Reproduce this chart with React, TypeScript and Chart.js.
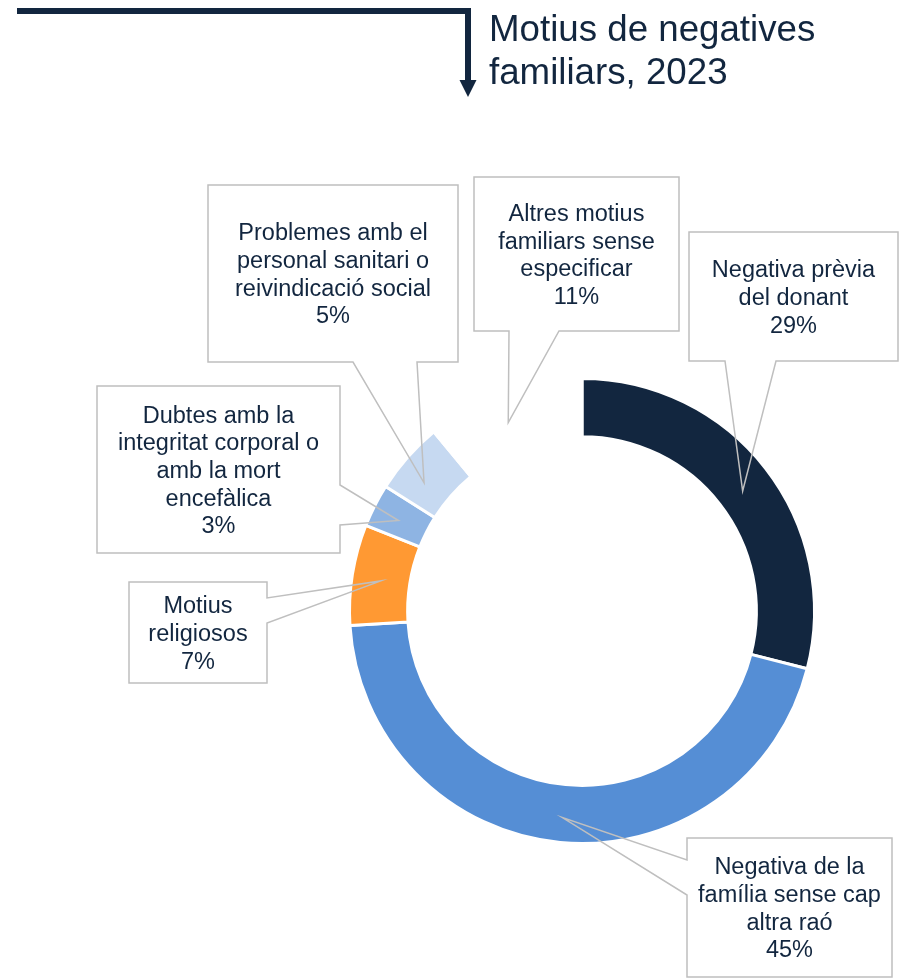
import React, { useEffect, useRef } from "react";
import { Chart, registerables } from "chart.js";

Chart.register(...registerables);

// ---- data ----
const categories: string[][] = [
  ["Negativa prèvia", "del donant"],
  ["Negativa de la", "família sense cap", "altra raó"],
  ["Motius", "religiosos"],
  ["Dubtes amb la", "integritat corporal o", "amb la mort", "encefàlica"],
  ["Problemes amb el", "personal sanitari o", "reivindicació social"],
  ["Altres motius", "familiars sense", "especificar"],
];
const values = [29, 45, 7, 3, 5, 11];
const colors = ["#12263F", "#558ED5", "#FF9933", "#8EB4E3", "#C6D9F1", "#FFFFFF"];
const titleLines = ["Motius de negatives", "familiars, 2023"];

// ---- callout layout (box x, y, w, h) ----
const calloutBoxes = [
  [689, 232, 209, 129],
  [687, 838, 205, 139],
  [129, 582, 138, 101],
  [97, 386, 243, 167],
  [208, 185, 250, 177],
  [474, 177, 205, 154],
];
const calloutSides = ["bottom", "left", "right", "right", "bottom", "bottom"];
const calloutBases = [
  [725, 776],
  [860, 895],
  [598, 623],
  [485, 525],
  [353, 417],
  [509, 559],
];
// tip position inside each arc: [fraction of arc angle, fraction of ring thickness]
const calloutTips = [
  [0.51, 0.45],
  [0.5, 0.57],
  [0.48, 0.5],
  [0.43, 0.52],
  [0.37, 0.5],
  [0.46, 0.48],
];

const NAVY = "#12263F";
const FONT = "'Liberation Sans', Arial, sans-serif";

const decorPlugin = {
  id: "decor",
  afterDatasetsDraw(chart: any) {
    const ctx = chart.ctx as CanvasRenderingContext2D;
    const meta = chart.getDatasetMeta(0);
    ctx.save();
    // callouts
    meta.data.forEach((arc: any, i: number) => {
      const p = arc.getProps(["x", "y", "startAngle", "endAngle", "innerRadius", "outerRadius"], true);
      const [fa, fr] = calloutTips[i];
      const ang = p.startAngle + fa * (p.endAngle - p.startAngle);
      const rad = p.innerRadius + fr * (p.outerRadius - p.innerRadius);
      const tx = p.x + Math.cos(ang) * rad;
      const ty = p.y + Math.sin(ang) * rad;
      const [x, y, w, h] = calloutBoxes[i];
      const [a, b] = calloutBases[i];
      const side = calloutSides[i];
      ctx.beginPath();
      if (side === "bottom") {
        ctx.moveTo(x, y);
        ctx.lineTo(x + w, y);
        ctx.lineTo(x + w, y + h);
        ctx.lineTo(b, y + h);
        ctx.lineTo(tx, ty);
        ctx.lineTo(a, y + h);
        ctx.lineTo(x, y + h);
      } else if (side === "right") {
        ctx.moveTo(x, y);
        ctx.lineTo(x + w, y);
        ctx.lineTo(x + w, a);
        ctx.lineTo(tx, ty);
        ctx.lineTo(x + w, b);
        ctx.lineTo(x + w, y + h);
        ctx.lineTo(x, y + h);
      } else {
        ctx.moveTo(x, y);
        ctx.lineTo(x + w, y);
        ctx.lineTo(x + w, y + h);
        ctx.lineTo(x, y + h);
        ctx.lineTo(x, b);
        ctx.lineTo(tx, ty);
        ctx.lineTo(x, a);
      }
      ctx.closePath();
      ctx.lineWidth = 1.5;
      ctx.strokeStyle = "#BFBFBF";
      ctx.lineJoin = "miter";
      ctx.stroke();

      // text
      const lines = [...categories[i], `${values[i]}%`];
      const fs = 23.5;
      const lh = 27.7;
      ctx.font = `${fs}px ${FONT}`;
      ctx.fillStyle = NAVY;
      ctx.textAlign = "center";
      ctx.textBaseline = "alphabetic";
      const cx = x + w / 2;
      const cy = y + h / 2;
      const first = cy - ((lines.length - 1) * lh) / 2 + fs * 0.716 / 2;
      lines.forEach((t, k) => ctx.fillText(t, cx, first + k * lh));
    });

    // title rule + arrow
    ctx.strokeStyle = NAVY;
    ctx.fillStyle = NAVY;
    ctx.lineWidth = 6;
    ctx.lineCap = "butt";
    ctx.beginPath();
    ctx.moveTo(17, 11);
    ctx.lineTo(471, 11);
    ctx.stroke();
    ctx.beginPath();
    ctx.moveTo(468, 8);
    ctx.lineTo(468, 82);
    ctx.stroke();
    ctx.beginPath();
    ctx.moveTo(459.5, 80);
    ctx.lineTo(476.5, 80);
    ctx.lineTo(468, 97);
    ctx.closePath();
    ctx.fill();

    // title
    ctx.font = `36.7px ${FONT}`;
    ctx.textAlign = "left";
    ctx.textBaseline = "alphabetic";
    titleLines.forEach((t, k) => ctx.fillText(t, 489, 41 + k * 43));
    ctx.restore();
  },
};

export default function App() {
  const ref = useRef<HTMLCanvasElement | null>(null);
  useEffect(() => {
    if (!ref.current) return;
    const chart = new Chart(ref.current, {
      type: "doughnut",
      data: {
        labels: categories.map((c) => c.join(" ")),
        datasets: [
          {
            data: values,
            backgroundColor: colors,
            borderColor: "#FFFFFF",
            borderWidth: 3,
          },
        ],
      },
      options: {
        responsive: false,
        animation: false,
        cutout: "75%",
        layout: { padding: { left: 348, right: 94, top: 377, bottom: 135 } },
        plugins: {
          legend: { display: false },
          tooltip: { enabled: false },
          title: { display: false },
        },
        events: [],
      },
      plugins: [decorPlugin],
    });
    return () => chart.destroy();
  }, []);
  return (
    <div style={{ position: "absolute", left: 0, top: 0, width: 910, height: 980, background: "#fff" }}>
      <canvas ref={ref} width={910} height={980} style={{ width: 910, height: 980, display: "block" }} />
    </div>
  );
}
